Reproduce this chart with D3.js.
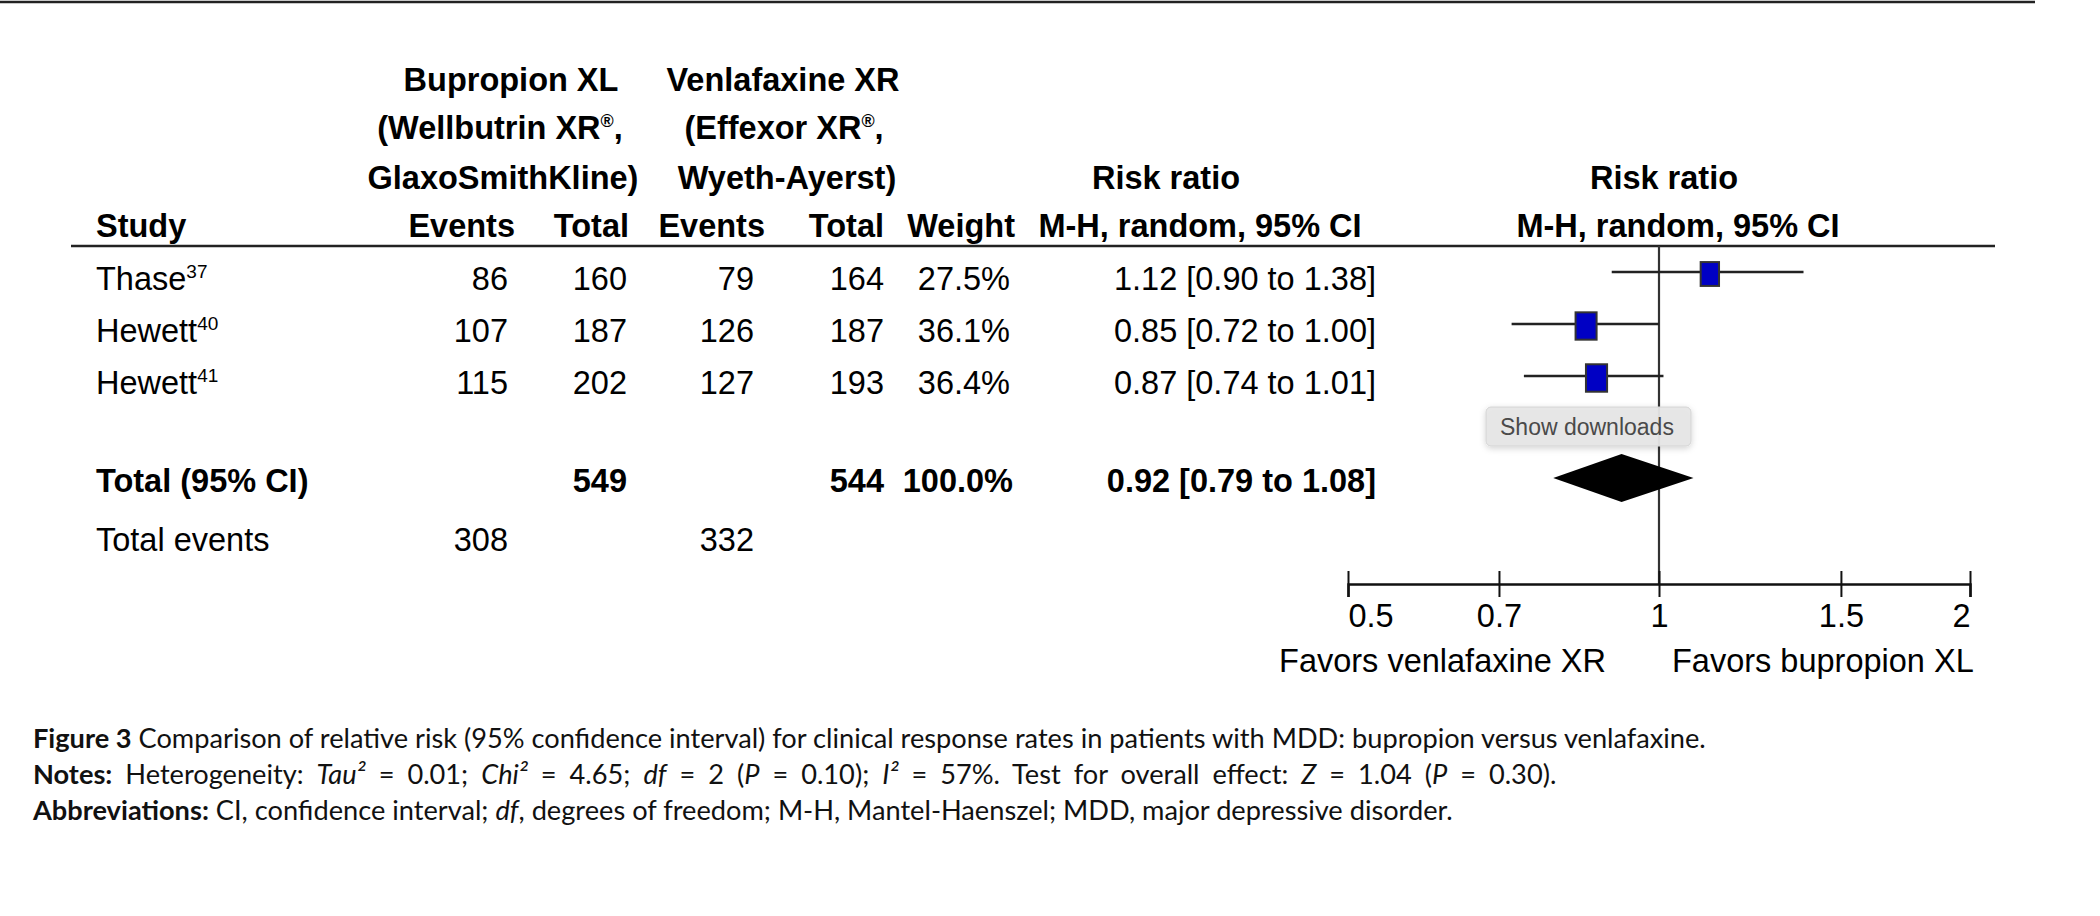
<!DOCTYPE html>
<html>
<head>
<meta charset="utf-8">
<script src="https://cdn.jsdelivr.net/npm/d3@7"></script>
<style>
  body { margin: 0; background: #fff; }
  svg text { font-family: Arial, "Liberation Sans", sans-serif; fill: #000; }
  .caption text { font-family: Lato, "Open Sans", sans-serif; fill: #111; }
</style>
</head>
<body>
<svg id="chart" width="2100" height="916"></svg>
<script>
// study rows
const studies = ["Thase", "Hewett", "Hewett"];
const refs = ["37", "40", "41"];
const bupEvents = [86, 107, 115];
const bupTotal = [160, 187, 202];
const venEvents = [79, 126, 127];
const venTotal = [164, 187, 193];
const weights = [27.5, 36.1, 36.4];
const rr = [1.12, 0.85, 0.87];
const rrLow = [0.90, 0.72, 0.74];
const rrHigh = [1.38, 1.00, 1.01];

// pooled
const totalN = [549, 544];
const totalEvents = [308, 332];
const pooled = [0.92, 0.79, 1.08]; // estimate, low, high
const pooledWeight = "100.0%";

const tickValues = [0.5, 0.7, 1, 1.5, 2];

const svg = d3.select("#chart");
const fmt2 = d3.format(".2f");
const rrLabel = (e, l, h) => `${fmt2(e)} [${fmt2(l)} to ${fmt2(h)}]`;

// layout
const fs = 32.5;
const rowY = d3.scalePoint().domain(d3.range(studies.length)).range([274, 378]);
const totalY = 478;
const eventsY = 535;
const axisY = 584;
const headTop = 246;

const x = d3.scaleLog().domain([0.5, 2]).range([1348, 1970]);

// top rule and header rule
svg.append("line").attr("x1", 0).attr("x2", 2035).attr("y1", 2).attr("y2", 2)
  .attr("stroke", "#222").attr("stroke-width", 2.5);
svg.append("line").attr("x1", 71).attr("x2", 1995).attr("y1", headTop).attr("y2", headTop)
  .attr("stroke", "#222").attr("stroke-width", 2.5);

// headers
const head = svg.append("g").attr("font-weight", "bold").attr("font-size", fs);
function sup(t, main, s) {
  t.append("tspan").text(main);
  t.append("tspan").attr("font-size", fs * 0.55).attr("dy", -12).text(s);
  t.append("tspan").attr("dy", 12).text(",");
}
head.append("text").attr("x", 511).attr("y", 91).attr("text-anchor", "middle").text("Bupropion XL");
sup(head.append("text").attr("x", 500).attr("y", 139).attr("text-anchor", "middle"), "(Wellbutrin XR", "®");
head.append("text").attr("x", 503).attr("y", 189).attr("text-anchor", "middle").text("GlaxoSmithKline)");
head.append("text").attr("x", 783).attr("y", 91).attr("text-anchor", "middle").text("Venlafaxine XR");
sup(head.append("text").attr("x", 784).attr("y", 139).attr("text-anchor", "middle"), "(Effexor XR", "®");
head.append("text").attr("x", 787).attr("y", 189).attr("text-anchor", "middle").text("Wyeth-Ayerst)");
head.append("text").attr("x", 1166).attr("y", 189).attr("text-anchor", "middle").text("Risk ratio");
head.append("text").attr("x", 1664).attr("y", 189).attr("text-anchor", "middle").text("Risk ratio");

head.append("text").attr("x", 96).attr("y", 237).text("Study");
[["Events", 515], ["Total", 629], ["Events", 765], ["Total", 884], ["Weight", 1015]].forEach(([t, px]) => {
  head.append("text").attr("x", px).attr("y", 237).attr("text-anchor", "end").text(t);
});
head.append("text").attr("x", 1200).attr("y", 237).attr("text-anchor", "middle").text("M-H, random, 95% CI");
head.append("text").attr("x", 1678).attr("y", 237).attr("text-anchor", "middle").text("M-H, random, 95% CI");

// body rows
const body = svg.append("g").attr("font-size", fs);
const colX = { be: 508, bt: 627, ve: 754, vt: 884, w: 1010, rr: 1376 };
studies.forEach((s, i) => {
  const yb = rowY(i) + 16;
  const t = body.append("text").attr("x", 96).attr("y", yb);
  t.append("tspan").text(s);
  t.append("tspan").attr("font-size", 19).attr("dy", -12).text(refs[i]);
  const cells = [[bupEvents[i], colX.be], [bupTotal[i], colX.bt], [venEvents[i], colX.ve],
    [venTotal[i], colX.vt], [weights[i].toFixed(1) + "%", colX.w],
    [rrLabel(rr[i], rrLow[i], rrHigh[i]), colX.rr]];
  cells.forEach(([v, px]) => {
    body.append("text").attr("x", px).attr("y", yb).attr("text-anchor", "end").text(v);
  });
});

const tot = svg.append("g").attr("font-size", fs).attr("font-weight", "bold");
tot.append("text").attr("x", 96).attr("y", totalY + 14).text("Total (95% CI)");
[[totalN[0], colX.bt], [totalN[1], colX.vt], [pooledWeight, colX.w + 3],
 [rrLabel(pooled[0], pooled[1], pooled[2]), colX.rr]].forEach(([v, px]) => {
  tot.append("text").attr("x", px).attr("y", totalY + 14).attr("text-anchor", "end").text(v);
});
body.append("text").attr("x", 96).attr("y", eventsY + 16).text("Total events");
[[totalEvents[0], colX.be], [totalEvents[1], colX.ve]].forEach(([v, px]) => {
  body.append("text").attr("x", px).attr("y", eventsY + 16).attr("text-anchor", "end").text(v);
});

// line of no effect
svg.append("line").attr("x1", x(1)).attr("x2", x(1)).attr("y1", headTop).attr("y2", axisY)
  .attr("stroke", "#333").attr("stroke-width", 2.2);

// whiskers and boxes
const plot = svg.append("g");
plot.selectAll(".ci").data(studies).join("line").attr("class", "ci")
  .attr("x1", (d, i) => x(rrLow[i])).attr("x2", (d, i) => x(rrHigh[i]))
  .attr("y1", (d, i) => rowY(i) - 2).attr("y2", (d, i) => rowY(i) - 2)
  .attr("stroke", "#222").attr("stroke-width", 2.5);
const bw = w => 3.5 * Math.sqrt(w);
plot.selectAll(".box").data(studies).join("rect").attr("class", "box")
  .attr("x", (d, i) => x(rr[i]) - bw(weights[i]) / 2)
  .attr("y", (d, i) => rowY(i) - bw(weights[i]) * 1.3 / 2)
  .attr("width", (d, i) => bw(weights[i]))
  .attr("height", (d, i) => bw(weights[i]) * 1.3)
  .attr("fill", "#0000c4").attr("stroke", "#333").attr("stroke-width", 2);

// pooled diamond
plot.append("path")
  .attr("d", `M${x(pooled[1])},${totalY}L${x(pooled[0])},${totalY - 24}L${x(pooled[2])},${totalY}L${x(pooled[0])},${totalY + 24}Z`)
  .attr("fill", "#000");

// axis
const axis = d3.axisBottom(x).tickValues(tickValues).tickFormat(d => String(d)).tickSizeOuter(0).tickSize(13);
const gAxis = svg.append("g").attr("transform", `translate(0,${axisY})`).call(axis);
gAxis.select(".domain").attr("stroke", "#111").attr("stroke-width", 2.5);
gAxis.selectAll(".tick line").attr("y1", -13).attr("y2", 13).attr("stroke", "#111").attr("stroke-width", 2);
gAxis.selectAll(".tick text").attr("y", 43).attr("dy", null)
  .attr("font-size", fs).attr("font-family", "Arial, 'Liberation Sans', sans-serif").attr("fill", "#000")
  .attr("text-anchor", (d, i) => i === 0 ? "start" : i === tickValues.length - 1 ? "end" : "middle");

svg.append("text").attr("x", 1606).attr("y", axisY + 88).attr("font-size", fs)
  .attr("text-anchor", "end").text("Favors venlafaxine XR");
svg.append("text").attr("x", 1672).attr("y", axisY + 88).attr("font-size", fs)
  .text("Favors bupropion XL");

// browser overlay seen in the screenshot
const defs = svg.append("defs");
defs.append("filter").attr("id", "sh").attr("x", "-10%").attr("y", "-30%").attr("width", "120%").attr("height", "170%")
  .append("feDropShadow").attr("dx", 0).attr("dy", 2).attr("stdDeviation", 3).attr("flood-opacity", 0.18);
svg.append("rect").attr("x", 1486).attr("y", 407).attr("width", 205).attr("height", 39).attr("rx", 5)
  .attr("fill", "#e6e6e6").attr("fill-opacity", 0.95).attr("stroke", "#d4d4d4").attr("filter", "url(#sh)");
svg.append("text").attr("x", 1500).attr("y", 435).attr("font-size", 23).style("fill", "#4a4a4a")
  .text("Show downloads");

// caption
const captionLines = [
  [["Figure 3", "b"], [" Comparison of relative risk (95% confidence interval) for clinical response rates in patients with MDD: bupropion versus venlafaxine.", ""]],
  [["Notes:", "b"], [" Heterogeneity: ", ""], ["Tau²", "i"], [" = 0.01; ", ""], ["Chi²", "i"], [" = 4.65; ", ""],
   ["df", "i"], [" = 2 (", ""], ["P", "i"], [" = 0.10); ", ""], ["I²", "i"], [" = 57%. Test for overall effect: ", ""],
   ["Z", "i"], [" = 1.04 (", ""], ["P", "i"], [" = 0.30).", ""]],
  [["Abbreviations:", "b"], [" CI, confidence interval; ", ""], ["df", "i"],
   [", degrees of freedom; M-H, Mantel-Haenszel; MDD, major depressive disorder.", ""]]
];
const capSpacing = [0, 6, 0];
const cap = svg.append("g").attr("class", "caption").attr("font-size", 27.2);
captionLines.forEach((parts, li) => {
  const t = cap.append("text").attr("x", 33).attr("y", 748 + li * 36)
    .attr("word-spacing", capSpacing[li]);
  parts.forEach(([s, st]) => {
    t.append("tspan").text(s)
      .attr("font-weight", st === "b" ? "bold" : null)
      .attr("font-style", st === "i" ? "italic" : null);
  });
});
</script>
</body>
</html>
